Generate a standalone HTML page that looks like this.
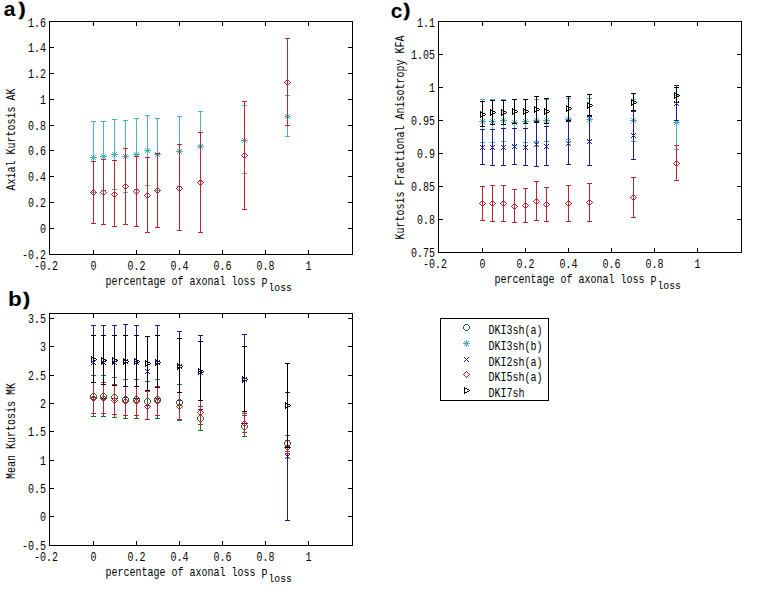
<!DOCTYPE html>
<html><head><meta charset="utf-8"><title>DKI plots</title>
<style>
html,body{margin:0;padding:0;background:#fff;}
body{width:763px;height:590px;overflow:hidden;font-family:"Liberation Sans",sans-serif;}
svg{display:block;}

</style></head><body>
<svg width="763" height="590" viewBox="0 0 763 590">
<rect width="763" height="590" fill="#fff"/>
<g font-family="Liberation Mono" font-size="13" fill="#000">
<rect x="49.5" y="21.5" width="303" height="233" fill="none" stroke="#000"/>
<path d="M50 21.5h4M352 21.5h-4M50 47.5h4M352 47.5h-4M50 73.5h4M352 73.5h-4M50 99.5h4M352 99.5h-4M50 125.5h4M352 125.5h-4M50 150.5h4M352 150.5h-4M50 176.5h4M352 176.5h-4M50 202.5h4M352 202.5h-4M50 228.5h4M352 228.5h-4M50 254.5h4M352 254.5h-4M49.5 254v-4M49.5 22v4M93.5 254v-4M93.5 22v4M136.5 254v-4M136.5 22v4M179.5 254v-4M179.5 22v4M222.5 254v-4M222.5 22v4M265.5 254v-4M265.5 22v4M308.5 254v-4M308.5 22v4M352.5 254v-4M352.5 22v4" stroke="#000" fill="none"/>
<text x="28" y="26.5" textLength="18" lengthAdjust="spacingAndGlyphs">1.6</text>
<text x="28" y="51.5" textLength="18" lengthAdjust="spacingAndGlyphs">1.4</text>
<text x="28" y="77.5" textLength="18" lengthAdjust="spacingAndGlyphs">1.2</text>
<text x="40" y="103.5" textLength="6" lengthAdjust="spacingAndGlyphs">1</text>
<text x="28" y="129.5" textLength="18" lengthAdjust="spacingAndGlyphs">0.8</text>
<text x="28" y="154.5" textLength="18" lengthAdjust="spacingAndGlyphs">0.6</text>
<text x="28" y="180.5" textLength="18" lengthAdjust="spacingAndGlyphs">0.4</text>
<text x="28" y="206.5" textLength="18" lengthAdjust="spacingAndGlyphs">0.2</text>
<text x="40" y="232.5" textLength="6" lengthAdjust="spacingAndGlyphs">0</text>
<text x="22" y="258.5" textLength="24" lengthAdjust="spacingAndGlyphs">-0.2</text>
<text x="34" y="269.5" textLength="24" lengthAdjust="spacingAndGlyphs">-0.2</text>
<text x="90.5" y="269.5" textLength="6" lengthAdjust="spacingAndGlyphs">0</text>
<text x="127.5" y="269.5" textLength="18" lengthAdjust="spacingAndGlyphs">0.2</text>
<text x="170.5" y="269.5" textLength="18" lengthAdjust="spacingAndGlyphs">0.4</text>
<text x="213.5" y="269.5" textLength="18" lengthAdjust="spacingAndGlyphs">0.6</text>
<text x="256.5" y="269.5" textLength="18" lengthAdjust="spacingAndGlyphs">0.8</text>
<text x="305.5" y="269.5" textLength="6" lengthAdjust="spacingAndGlyphs">1</text>
<text x="105.5" y="285" textLength="150" lengthAdjust="spacingAndGlyphs">percentage of axonal loss</text>
<text x="261.5" y="287" textLength="6" lengthAdjust="spacingAndGlyphs">P</text>
<text x="268.5" y="290.5" font-size="10.5" textLength="23.5" lengthAdjust="spacingAndGlyphs">loss</text>
<text transform="translate(14.5 190.5) rotate(-90)" x="0" y="0" textLength="102" lengthAdjust="spacingAndGlyphs">Axial Kurtosis AK</text>
<rect x="49.5" y="313.5" width="303" height="232" fill="none" stroke="#000"/>
<path d="M50 318.5h4M352 318.5h-4M50 346.5h4M352 346.5h-4M50 375.5h4M352 375.5h-4M50 403.5h4M352 403.5h-4M50 431.5h4M352 431.5h-4M50 460.5h4M352 460.5h-4M50 488.5h4M352 488.5h-4M50 516.5h4M352 516.5h-4M50 545.5h4M352 545.5h-4M49.5 545v-4M49.5 314v4M93.5 545v-4M93.5 314v4M136.5 545v-4M136.5 314v4M179.5 545v-4M179.5 314v4M222.5 545v-4M222.5 314v4M265.5 545v-4M265.5 314v4M308.5 545v-4M308.5 314v4M352.5 545v-4M352.5 314v4" stroke="#000" fill="none"/>
<text x="28" y="322.5" textLength="18" lengthAdjust="spacingAndGlyphs">3.5</text>
<text x="40" y="350.5" textLength="6" lengthAdjust="spacingAndGlyphs">3</text>
<text x="28" y="379.5" textLength="18" lengthAdjust="spacingAndGlyphs">2.5</text>
<text x="40" y="407.5" textLength="6" lengthAdjust="spacingAndGlyphs">2</text>
<text x="28" y="435.5" textLength="18" lengthAdjust="spacingAndGlyphs">1.5</text>
<text x="40" y="464.5" textLength="6" lengthAdjust="spacingAndGlyphs">1</text>
<text x="28" y="492.5" textLength="18" lengthAdjust="spacingAndGlyphs">0.5</text>
<text x="40" y="520.5" textLength="6" lengthAdjust="spacingAndGlyphs">0</text>
<text x="22" y="549.5" textLength="24" lengthAdjust="spacingAndGlyphs">-0.5</text>
<text x="34" y="560.5" textLength="24" lengthAdjust="spacingAndGlyphs">-0.2</text>
<text x="90.5" y="560.5" textLength="6" lengthAdjust="spacingAndGlyphs">0</text>
<text x="127.5" y="560.5" textLength="18" lengthAdjust="spacingAndGlyphs">0.2</text>
<text x="170.5" y="560.5" textLength="18" lengthAdjust="spacingAndGlyphs">0.4</text>
<text x="213.5" y="560.5" textLength="18" lengthAdjust="spacingAndGlyphs">0.6</text>
<text x="256.5" y="560.5" textLength="18" lengthAdjust="spacingAndGlyphs">0.8</text>
<text x="305.5" y="560.5" textLength="6" lengthAdjust="spacingAndGlyphs">1</text>
<text x="105.5" y="576" textLength="150" lengthAdjust="spacingAndGlyphs">percentage of axonal loss</text>
<text x="261.5" y="578" textLength="6" lengthAdjust="spacingAndGlyphs">P</text>
<text x="268.5" y="581.5" font-size="10.5" textLength="23.5" lengthAdjust="spacingAndGlyphs">loss</text>
<text transform="translate(14.5 479) rotate(-90)" x="0" y="0" textLength="96" lengthAdjust="spacingAndGlyphs">Mean Kurtosis MK</text>
<rect x="438.5" y="21.5" width="303" height="231" fill="none" stroke="#000"/>
<path d="M439 21.5h4M741 21.5h-4M439 54.5h4M741 54.5h-4M439 87.5h4M741 87.5h-4M439 120.5h4M741 120.5h-4M439 153.5h4M741 153.5h-4M439 186.5h4M741 186.5h-4M439 219.5h4M741 219.5h-4M439 252.5h4M741 252.5h-4M438.5 252v-4M438.5 22v4M482.5 252v-4M482.5 22v4M525.5 252v-4M525.5 22v4M568.5 252v-4M568.5 22v4M611.5 252v-4M611.5 22v4M654.5 252v-4M654.5 22v4M697.5 252v-4M697.5 22v4M741.5 252v-4M741.5 22v4" stroke="#000" fill="none"/>
<text x="417" y="26.5" textLength="18" lengthAdjust="spacingAndGlyphs">1.1</text>
<text x="411" y="58.5" textLength="24" lengthAdjust="spacingAndGlyphs">1.05</text>
<text x="429" y="91.5" textLength="6" lengthAdjust="spacingAndGlyphs">1</text>
<text x="411" y="124.5" textLength="24" lengthAdjust="spacingAndGlyphs">0.95</text>
<text x="417" y="157.5" textLength="18" lengthAdjust="spacingAndGlyphs">0.9</text>
<text x="411" y="190.5" textLength="24" lengthAdjust="spacingAndGlyphs">0.85</text>
<text x="417" y="223.5" textLength="18" lengthAdjust="spacingAndGlyphs">0.8</text>
<text x="411" y="256.5" textLength="24" lengthAdjust="spacingAndGlyphs">0.75</text>
<text x="423" y="267.5" textLength="24" lengthAdjust="spacingAndGlyphs">-0.2</text>
<text x="479.5" y="267.5" textLength="6" lengthAdjust="spacingAndGlyphs">0</text>
<text x="516.5" y="267.5" textLength="18" lengthAdjust="spacingAndGlyphs">0.2</text>
<text x="559.5" y="267.5" textLength="18" lengthAdjust="spacingAndGlyphs">0.4</text>
<text x="602.5" y="267.5" textLength="18" lengthAdjust="spacingAndGlyphs">0.6</text>
<text x="645.5" y="267.5" textLength="18" lengthAdjust="spacingAndGlyphs">0.8</text>
<text x="694.5" y="267.5" textLength="6" lengthAdjust="spacingAndGlyphs">1</text>
<text x="494.5" y="283" textLength="150" lengthAdjust="spacingAndGlyphs">percentage of axonal loss</text>
<text x="650.5" y="285" textLength="6" lengthAdjust="spacingAndGlyphs">P</text>
<text x="657.5" y="288.5" font-size="10.5" textLength="23.5" lengthAdjust="spacingAndGlyphs">loss</text>
<text transform="translate(403.5 239.5) rotate(-90)" x="0" y="0" textLength="204" lengthAdjust="spacingAndGlyphs">Kurtosis Fractional Anisotropy KFA</text>
</g>
<g shape-rendering="crispEdges">
<path d="M93.5 121.5V192.5M91 121.5h5M91 192.5h5M103.5 121.5V190.5M101 121.5h5M101 190.5h5M114.5 119.5V189.5M112 119.5h5M112 189.5h5M125.5 120.5V192.5M123 120.5h5M123 192.5h5M136.5 118.5V189.5M134 118.5h5M134 189.5h5M147.5 115.5V185.5M145 115.5h5M145 185.5h5M157.5 118.5V190.5M155 118.5h5M155 190.5h5M179.5 116.5V186.5M177 116.5h5M177 186.5h5M200.5 111.5V181.5M198 111.5h5M198 181.5h5M244.5 105.5V173.5M242 105.5h5M242 173.5h5M287.5 95.5V136.5M285 95.5h5M285 136.5h5" stroke="#48b4be" fill="none"/>
<path d="M93 154h1v1h-1zM91 155h1v1h-1zM93 155h1v1h-1zM95 155h1v1h-1zM92 156h1v1h-1zM93 156h1v1h-1zM94 156h1v1h-1zM90 157h1v1h-1zM91 157h1v1h-1zM92 157h1v1h-1zM93 157h1v1h-1zM94 157h1v1h-1zM95 157h1v1h-1zM96 157h1v1h-1zM92 158h1v1h-1zM93 158h1v1h-1zM94 158h1v1h-1zM91 159h1v1h-1zM93 159h1v1h-1zM95 159h1v1h-1zM93 160h1v1h-1z" fill="#48b4be"/>
<path d="M103 153h1v1h-1zM101 154h1v1h-1zM103 154h1v1h-1zM105 154h1v1h-1zM102 155h1v1h-1zM103 155h1v1h-1zM104 155h1v1h-1zM100 156h1v1h-1zM101 156h1v1h-1zM102 156h1v1h-1zM103 156h1v1h-1zM104 156h1v1h-1zM105 156h1v1h-1zM106 156h1v1h-1zM102 157h1v1h-1zM103 157h1v1h-1zM104 157h1v1h-1zM101 158h1v1h-1zM103 158h1v1h-1zM105 158h1v1h-1zM103 159h1v1h-1z" fill="#48b4be"/>
<path d="M114 151h1v1h-1zM112 152h1v1h-1zM114 152h1v1h-1zM116 152h1v1h-1zM113 153h1v1h-1zM114 153h1v1h-1zM115 153h1v1h-1zM111 154h1v1h-1zM112 154h1v1h-1zM113 154h1v1h-1zM114 154h1v1h-1zM115 154h1v1h-1zM116 154h1v1h-1zM117 154h1v1h-1zM113 155h1v1h-1zM114 155h1v1h-1zM115 155h1v1h-1zM112 156h1v1h-1zM114 156h1v1h-1zM116 156h1v1h-1zM114 157h1v1h-1z" fill="#48b4be"/>
<path d="M125 153h1v1h-1zM123 154h1v1h-1zM125 154h1v1h-1zM127 154h1v1h-1zM124 155h1v1h-1zM125 155h1v1h-1zM126 155h1v1h-1zM122 156h1v1h-1zM123 156h1v1h-1zM124 156h1v1h-1zM125 156h1v1h-1zM126 156h1v1h-1zM127 156h1v1h-1zM128 156h1v1h-1zM124 157h1v1h-1zM125 157h1v1h-1zM126 157h1v1h-1zM123 158h1v1h-1zM125 158h1v1h-1zM127 158h1v1h-1zM125 159h1v1h-1z" fill="#48b4be"/>
<path d="M136 151h1v1h-1zM134 152h1v1h-1zM136 152h1v1h-1zM138 152h1v1h-1zM135 153h1v1h-1zM136 153h1v1h-1zM137 153h1v1h-1zM133 154h1v1h-1zM134 154h1v1h-1zM135 154h1v1h-1zM136 154h1v1h-1zM137 154h1v1h-1zM138 154h1v1h-1zM139 154h1v1h-1zM135 155h1v1h-1zM136 155h1v1h-1zM137 155h1v1h-1zM134 156h1v1h-1zM136 156h1v1h-1zM138 156h1v1h-1zM136 157h1v1h-1z" fill="#48b4be"/>
<path d="M147 147h1v1h-1zM145 148h1v1h-1zM147 148h1v1h-1zM149 148h1v1h-1zM146 149h1v1h-1zM147 149h1v1h-1zM148 149h1v1h-1zM144 150h1v1h-1zM145 150h1v1h-1zM146 150h1v1h-1zM147 150h1v1h-1zM148 150h1v1h-1zM149 150h1v1h-1zM150 150h1v1h-1zM146 151h1v1h-1zM147 151h1v1h-1zM148 151h1v1h-1zM145 152h1v1h-1zM147 152h1v1h-1zM149 152h1v1h-1zM147 153h1v1h-1z" fill="#48b4be"/>
<path d="M157 151h1v1h-1zM155 152h1v1h-1zM157 152h1v1h-1zM159 152h1v1h-1zM156 153h1v1h-1zM157 153h1v1h-1zM158 153h1v1h-1zM154 154h1v1h-1zM155 154h1v1h-1zM156 154h1v1h-1zM157 154h1v1h-1zM158 154h1v1h-1zM159 154h1v1h-1zM160 154h1v1h-1zM156 155h1v1h-1zM157 155h1v1h-1zM158 155h1v1h-1zM155 156h1v1h-1zM157 156h1v1h-1zM159 156h1v1h-1zM157 157h1v1h-1z" fill="#48b4be"/>
<path d="M179 148h1v1h-1zM177 149h1v1h-1zM179 149h1v1h-1zM181 149h1v1h-1zM178 150h1v1h-1zM179 150h1v1h-1zM180 150h1v1h-1zM176 151h1v1h-1zM177 151h1v1h-1zM178 151h1v1h-1zM179 151h1v1h-1zM180 151h1v1h-1zM181 151h1v1h-1zM182 151h1v1h-1zM178 152h1v1h-1zM179 152h1v1h-1zM180 152h1v1h-1zM177 153h1v1h-1zM179 153h1v1h-1zM181 153h1v1h-1zM179 154h1v1h-1z" fill="#48b4be"/>
<path d="M200 143h1v1h-1zM198 144h1v1h-1zM200 144h1v1h-1zM202 144h1v1h-1zM199 145h1v1h-1zM200 145h1v1h-1zM201 145h1v1h-1zM197 146h1v1h-1zM198 146h1v1h-1zM199 146h1v1h-1zM200 146h1v1h-1zM201 146h1v1h-1zM202 146h1v1h-1zM203 146h1v1h-1zM199 147h1v1h-1zM200 147h1v1h-1zM201 147h1v1h-1zM198 148h1v1h-1zM200 148h1v1h-1zM202 148h1v1h-1zM200 149h1v1h-1z" fill="#48b4be"/>
<path d="M244 137h1v1h-1zM242 138h1v1h-1zM244 138h1v1h-1zM246 138h1v1h-1zM243 139h1v1h-1zM244 139h1v1h-1zM245 139h1v1h-1zM241 140h1v1h-1zM242 140h1v1h-1zM243 140h1v1h-1zM244 140h1v1h-1zM245 140h1v1h-1zM246 140h1v1h-1zM247 140h1v1h-1zM243 141h1v1h-1zM244 141h1v1h-1zM245 141h1v1h-1zM242 142h1v1h-1zM244 142h1v1h-1zM246 142h1v1h-1zM244 143h1v1h-1z" fill="#48b4be"/>
<path d="M287 113h1v1h-1zM285 114h1v1h-1zM287 114h1v1h-1zM289 114h1v1h-1zM286 115h1v1h-1zM287 115h1v1h-1zM288 115h1v1h-1zM284 116h1v1h-1zM285 116h1v1h-1zM286 116h1v1h-1zM287 116h1v1h-1zM288 116h1v1h-1zM289 116h1v1h-1zM290 116h1v1h-1zM286 117h1v1h-1zM287 117h1v1h-1zM288 117h1v1h-1zM285 118h1v1h-1zM287 118h1v1h-1zM289 118h1v1h-1zM287 119h1v1h-1z" fill="#48b4be"/>
<path d="M93.5 161.5V223.5M91 161.5h5M91 223.5h5M103.5 159.5V224.5M101 159.5h5M101 224.5h5M114.5 160.5V226.5M112 160.5h5M112 226.5h5M125.5 148.5V224.5M123 148.5h5M123 224.5h5M136.5 156.5V226.5M134 156.5h5M134 226.5h5M147.5 157.5V232.5M145 157.5h5M145 232.5h5M157.5 153.5V227.5M155 153.5h5M155 227.5h5M179.5 144.5V230.5M177 144.5h5M177 230.5h5M200.5 132.5V232.5M198 132.5h5M198 232.5h5M244.5 101.5V209.5M242 101.5h5M242 209.5h5M287.5 38.5V125.5M285 38.5h5M285 125.5h5" stroke="#be2430" fill="none"/>
<path d="M93 189h1v1h-1zM92 190h1v1h-1zM94 190h1v1h-1zM91 191h1v1h-1zM95 191h1v1h-1zM90 192h1v1h-1zM96 192h1v1h-1zM91 193h1v1h-1zM95 193h1v1h-1zM92 194h1v1h-1zM94 194h1v1h-1zM93 195h1v1h-1z" fill="#be2430"/>
<path d="M103 189h1v1h-1zM102 190h1v1h-1zM104 190h1v1h-1zM101 191h1v1h-1zM105 191h1v1h-1zM100 192h1v1h-1zM106 192h1v1h-1zM101 193h1v1h-1zM105 193h1v1h-1zM102 194h1v1h-1zM104 194h1v1h-1zM103 195h1v1h-1z" fill="#be2430"/>
<path d="M114 191h1v1h-1zM113 192h1v1h-1zM115 192h1v1h-1zM112 193h1v1h-1zM116 193h1v1h-1zM111 194h1v1h-1zM117 194h1v1h-1zM112 195h1v1h-1zM116 195h1v1h-1zM113 196h1v1h-1zM115 196h1v1h-1zM114 197h1v1h-1z" fill="#be2430"/>
<path d="M125 183h1v1h-1zM124 184h1v1h-1zM126 184h1v1h-1zM123 185h1v1h-1zM127 185h1v1h-1zM122 186h1v1h-1zM128 186h1v1h-1zM123 187h1v1h-1zM127 187h1v1h-1zM124 188h1v1h-1zM126 188h1v1h-1zM125 189h1v1h-1z" fill="#be2430"/>
<path d="M136 188h1v1h-1zM135 189h1v1h-1zM137 189h1v1h-1zM134 190h1v1h-1zM138 190h1v1h-1zM133 191h1v1h-1zM139 191h1v1h-1zM134 192h1v1h-1zM138 192h1v1h-1zM135 193h1v1h-1zM137 193h1v1h-1zM136 194h1v1h-1z" fill="#be2430"/>
<path d="M147 192h1v1h-1zM146 193h1v1h-1zM148 193h1v1h-1zM145 194h1v1h-1zM149 194h1v1h-1zM144 195h1v1h-1zM150 195h1v1h-1zM145 196h1v1h-1zM149 196h1v1h-1zM146 197h1v1h-1zM148 197h1v1h-1zM147 198h1v1h-1z" fill="#be2430"/>
<path d="M157 187h1v1h-1zM156 188h1v1h-1zM158 188h1v1h-1zM155 189h1v1h-1zM159 189h1v1h-1zM154 190h1v1h-1zM160 190h1v1h-1zM155 191h1v1h-1zM159 191h1v1h-1zM156 192h1v1h-1zM158 192h1v1h-1zM157 193h1v1h-1z" fill="#be2430"/>
<path d="M179 185h1v1h-1zM178 186h1v1h-1zM180 186h1v1h-1zM177 187h1v1h-1zM181 187h1v1h-1zM176 188h1v1h-1zM182 188h1v1h-1zM177 189h1v1h-1zM181 189h1v1h-1zM178 190h1v1h-1zM180 190h1v1h-1zM179 191h1v1h-1z" fill="#be2430"/>
<path d="M200 179h1v1h-1zM199 180h1v1h-1zM201 180h1v1h-1zM198 181h1v1h-1zM202 181h1v1h-1zM197 182h1v1h-1zM203 182h1v1h-1zM198 183h1v1h-1zM202 183h1v1h-1zM199 184h1v1h-1zM201 184h1v1h-1zM200 185h1v1h-1z" fill="#be2430"/>
<path d="M244 152h1v1h-1zM243 153h1v1h-1zM245 153h1v1h-1zM242 154h1v1h-1zM246 154h1v1h-1zM241 155h1v1h-1zM247 155h1v1h-1zM242 156h1v1h-1zM246 156h1v1h-1zM243 157h1v1h-1zM245 157h1v1h-1zM244 158h1v1h-1z" fill="#be2430"/>
<path d="M287 79h1v1h-1zM286 80h1v1h-1zM288 80h1v1h-1zM285 81h1v1h-1zM289 81h1v1h-1zM284 82h1v1h-1zM290 82h1v1h-1zM285 83h1v1h-1zM289 83h1v1h-1zM286 84h1v1h-1zM288 84h1v1h-1zM287 85h1v1h-1z" fill="#be2430"/>
<path d="M93.5 375.5V416.5M91 375.5h5M91 416.5h5M103.5 375.5V416.5M101 375.5h5M101 416.5h5M114.5 377.5V417.5M112 377.5h5M112 417.5h5M125.5 379.5V418.5M123 379.5h5M123 418.5h5M136.5 379.5V418.5M134 379.5h5M134 418.5h5M147.5 381.5V419.5M145 381.5h5M145 419.5h5M157.5 379.5V418.5M155 379.5h5M155 418.5h5M179.5 384.5V420.5M177 384.5h5M177 420.5h5M200.5 406.5V430.5M198 406.5h5M198 430.5h5M244.5 415.5V436.5M242 415.5h5M242 436.5h5M287.5 435.5V451.5M285 435.5h5M285 451.5h5" stroke="#1e7328" fill="none"/>
<path d="M92 393h1v1h-1zM93 393h1v1h-1zM94 393h1v1h-1zM91 394h1v1h-1zM95 394h1v1h-1zM90 395h1v1h-1zM96 395h1v1h-1zM90 396h1v1h-1zM96 396h1v1h-1zM90 397h1v1h-1zM96 397h1v1h-1zM91 398h1v1h-1zM95 398h1v1h-1zM92 399h1v1h-1zM93 399h1v1h-1zM94 399h1v1h-1z" fill="#1e7328"/>
<path d="M102 393h1v1h-1zM103 393h1v1h-1zM104 393h1v1h-1zM101 394h1v1h-1zM105 394h1v1h-1zM100 395h1v1h-1zM106 395h1v1h-1zM100 396h1v1h-1zM106 396h1v1h-1zM100 397h1v1h-1zM106 397h1v1h-1zM101 398h1v1h-1zM105 398h1v1h-1zM102 399h1v1h-1zM103 399h1v1h-1zM104 399h1v1h-1z" fill="#1e7328"/>
<path d="M113 394h1v1h-1zM114 394h1v1h-1zM115 394h1v1h-1zM112 395h1v1h-1zM116 395h1v1h-1zM111 396h1v1h-1zM117 396h1v1h-1zM111 397h1v1h-1zM117 397h1v1h-1zM111 398h1v1h-1zM117 398h1v1h-1zM112 399h1v1h-1zM116 399h1v1h-1zM113 400h1v1h-1zM114 400h1v1h-1zM115 400h1v1h-1z" fill="#1e7328"/>
<path d="M124 396h1v1h-1zM125 396h1v1h-1zM126 396h1v1h-1zM123 397h1v1h-1zM127 397h1v1h-1zM122 398h1v1h-1zM128 398h1v1h-1zM122 399h1v1h-1zM128 399h1v1h-1zM122 400h1v1h-1zM128 400h1v1h-1zM123 401h1v1h-1zM127 401h1v1h-1zM124 402h1v1h-1zM125 402h1v1h-1zM126 402h1v1h-1z" fill="#1e7328"/>
<path d="M135 396h1v1h-1zM136 396h1v1h-1zM137 396h1v1h-1zM134 397h1v1h-1zM138 397h1v1h-1zM133 398h1v1h-1zM139 398h1v1h-1zM133 399h1v1h-1zM139 399h1v1h-1zM133 400h1v1h-1zM139 400h1v1h-1zM134 401h1v1h-1zM138 401h1v1h-1zM135 402h1v1h-1zM136 402h1v1h-1zM137 402h1v1h-1z" fill="#1e7328"/>
<path d="M146 398h1v1h-1zM147 398h1v1h-1zM148 398h1v1h-1zM145 399h1v1h-1zM149 399h1v1h-1zM144 400h1v1h-1zM150 400h1v1h-1zM144 401h1v1h-1zM150 401h1v1h-1zM144 402h1v1h-1zM150 402h1v1h-1zM145 403h1v1h-1zM149 403h1v1h-1zM146 404h1v1h-1zM147 404h1v1h-1zM148 404h1v1h-1z" fill="#1e7328"/>
<path d="M156 396h1v1h-1zM157 396h1v1h-1zM158 396h1v1h-1zM155 397h1v1h-1zM159 397h1v1h-1zM154 398h1v1h-1zM160 398h1v1h-1zM154 399h1v1h-1zM160 399h1v1h-1zM154 400h1v1h-1zM160 400h1v1h-1zM155 401h1v1h-1zM159 401h1v1h-1zM156 402h1v1h-1zM157 402h1v1h-1zM158 402h1v1h-1z" fill="#1e7328"/>
<path d="M178 399h1v1h-1zM179 399h1v1h-1zM180 399h1v1h-1zM177 400h1v1h-1zM181 400h1v1h-1zM176 401h1v1h-1zM182 401h1v1h-1zM176 402h1v1h-1zM182 402h1v1h-1zM176 403h1v1h-1zM182 403h1v1h-1zM177 404h1v1h-1zM181 404h1v1h-1zM178 405h1v1h-1zM179 405h1v1h-1zM180 405h1v1h-1z" fill="#1e7328"/>
<path d="M199 415h1v1h-1zM200 415h1v1h-1zM201 415h1v1h-1zM198 416h1v1h-1zM202 416h1v1h-1zM197 417h1v1h-1zM203 417h1v1h-1zM197 418h1v1h-1zM203 418h1v1h-1zM197 419h1v1h-1zM203 419h1v1h-1zM198 420h1v1h-1zM202 420h1v1h-1zM199 421h1v1h-1zM200 421h1v1h-1zM201 421h1v1h-1z" fill="#1e7328"/>
<path d="M243 423h1v1h-1zM244 423h1v1h-1zM245 423h1v1h-1zM242 424h1v1h-1zM246 424h1v1h-1zM241 425h1v1h-1zM247 425h1v1h-1zM241 426h1v1h-1zM247 426h1v1h-1zM241 427h1v1h-1zM247 427h1v1h-1zM242 428h1v1h-1zM246 428h1v1h-1zM243 429h1v1h-1zM244 429h1v1h-1zM245 429h1v1h-1z" fill="#1e7328"/>
<path d="M286 440h1v1h-1zM287 440h1v1h-1zM288 440h1v1h-1zM285 441h1v1h-1zM289 441h1v1h-1zM284 442h1v1h-1zM290 442h1v1h-1zM284 443h1v1h-1zM290 443h1v1h-1zM284 444h1v1h-1zM290 444h1v1h-1zM285 445h1v1h-1zM289 445h1v1h-1zM286 446h1v1h-1zM287 446h1v1h-1zM288 446h1v1h-1z" fill="#1e7328"/>
<path d="M93.5 325.5V397.5M91 325.5h5M91 397.5h5M103.5 325.5V398.5M101 325.5h5M101 398.5h5M114.5 325.5V398.5M112 325.5h5M112 398.5h5M125.5 324.5V397.5M123 324.5h5M123 397.5h5M136.5 325.5V398.5M134 325.5h5M134 398.5h5M147.5 336.5V405.5M145 336.5h5M145 405.5h5M157.5 325.5V398.5M155 325.5h5M155 398.5h5M179.5 331.5V400.5M177 331.5h5M177 400.5h5M200.5 335.5V409.5M198 335.5h5M198 409.5h5M244.5 334.5V423.5M242 334.5h5M242 423.5h5M287.5 392.5V520.5M285 392.5h5M285 520.5h5" stroke="#1c1c8c" fill="none"/>
<path d="M93.5 382.5V413.5M91 382.5h5M91 413.5h5M103.5 382.5V413.5M101 382.5h5M101 413.5h5M114.5 384.5V414.5M112 384.5h5M112 414.5h5M125.5 386.5V415.5M123 386.5h5M123 415.5h5M136.5 386.5V415.5M134 386.5h5M134 415.5h5M147.5 391.5V419.5M145 391.5h5M145 419.5h5M157.5 386.5V415.5M155 386.5h5M155 415.5h5M179.5 392.5V419.5M177 392.5h5M177 419.5h5M200.5 400.5V424.5M198 400.5h5M198 424.5h5M244.5 413.5V432.5M242 413.5h5M242 432.5h5M287.5 440.5V453.5M285 440.5h5M285 453.5h5" stroke="#be2430" fill="none"/>
<path d="M93 395h1v1h-1zM92 396h1v1h-1zM94 396h1v1h-1zM91 397h1v1h-1zM95 397h1v1h-1zM90 398h1v1h-1zM96 398h1v1h-1zM91 399h1v1h-1zM95 399h1v1h-1zM92 400h1v1h-1zM94 400h1v1h-1zM93 401h1v1h-1z" fill="#be2430"/>
<path d="M103 395h1v1h-1zM102 396h1v1h-1zM104 396h1v1h-1zM101 397h1v1h-1zM105 397h1v1h-1zM100 398h1v1h-1zM106 398h1v1h-1zM101 399h1v1h-1zM105 399h1v1h-1zM102 400h1v1h-1zM104 400h1v1h-1zM103 401h1v1h-1z" fill="#be2430"/>
<path d="M114 397h1v1h-1zM113 398h1v1h-1zM115 398h1v1h-1zM112 399h1v1h-1zM116 399h1v1h-1zM111 400h1v1h-1zM117 400h1v1h-1zM112 401h1v1h-1zM116 401h1v1h-1zM113 402h1v1h-1zM115 402h1v1h-1zM114 403h1v1h-1z" fill="#be2430"/>
<path d="M125 398h1v1h-1zM124 399h1v1h-1zM126 399h1v1h-1zM123 400h1v1h-1zM127 400h1v1h-1zM122 401h1v1h-1zM128 401h1v1h-1zM123 402h1v1h-1zM127 402h1v1h-1zM124 403h1v1h-1zM126 403h1v1h-1zM125 404h1v1h-1z" fill="#be2430"/>
<path d="M136 398h1v1h-1zM135 399h1v1h-1zM137 399h1v1h-1zM134 400h1v1h-1zM138 400h1v1h-1zM133 401h1v1h-1zM139 401h1v1h-1zM134 402h1v1h-1zM138 402h1v1h-1zM135 403h1v1h-1zM137 403h1v1h-1zM136 404h1v1h-1z" fill="#be2430"/>
<path d="M147 403h1v1h-1zM146 404h1v1h-1zM148 404h1v1h-1zM145 405h1v1h-1zM149 405h1v1h-1zM144 406h1v1h-1zM150 406h1v1h-1zM145 407h1v1h-1zM149 407h1v1h-1zM146 408h1v1h-1zM148 408h1v1h-1zM147 409h1v1h-1z" fill="#be2430"/>
<path d="M157 398h1v1h-1zM156 399h1v1h-1zM158 399h1v1h-1zM155 400h1v1h-1zM159 400h1v1h-1zM154 401h1v1h-1zM160 401h1v1h-1zM155 402h1v1h-1zM159 402h1v1h-1zM156 403h1v1h-1zM158 403h1v1h-1zM157 404h1v1h-1z" fill="#be2430"/>
<path d="M179 403h1v1h-1zM178 404h1v1h-1zM180 404h1v1h-1zM177 405h1v1h-1zM181 405h1v1h-1zM176 406h1v1h-1zM182 406h1v1h-1zM177 407h1v1h-1zM181 407h1v1h-1zM178 408h1v1h-1zM180 408h1v1h-1zM179 409h1v1h-1z" fill="#be2430"/>
<path d="M200 409h1v1h-1zM199 410h1v1h-1zM201 410h1v1h-1zM198 411h1v1h-1zM202 411h1v1h-1zM197 412h1v1h-1zM203 412h1v1h-1zM198 413h1v1h-1zM202 413h1v1h-1zM199 414h1v1h-1zM201 414h1v1h-1zM200 415h1v1h-1z" fill="#be2430"/>
<path d="M244 420h1v1h-1zM243 421h1v1h-1zM245 421h1v1h-1zM242 422h1v1h-1zM246 422h1v1h-1zM241 423h1v1h-1zM247 423h1v1h-1zM242 424h1v1h-1zM246 424h1v1h-1zM243 425h1v1h-1zM245 425h1v1h-1zM244 426h1v1h-1z" fill="#be2430"/>
<path d="M287 444h1v1h-1zM286 445h1v1h-1zM288 445h1v1h-1zM285 446h1v1h-1zM289 446h1v1h-1zM284 447h1v1h-1zM290 447h1v1h-1zM285 448h1v1h-1zM289 448h1v1h-1zM286 449h1v1h-1zM288 449h1v1h-1zM287 450h1v1h-1z" fill="#be2430"/>
<path d="M93.5 335.5V382.5M91 335.5h5M91 382.5h5M103.5 335.5V384.5M101 335.5h5M101 384.5h5M114.5 335.5V385.5M112 335.5h5M112 385.5h5M125.5 335.5V386.5M123 335.5h5M123 386.5h5M136.5 335.5V386.5M134 335.5h5M134 386.5h5M147.5 336.5V390.5M145 336.5h5M145 390.5h5M157.5 335.5V387.5M155 335.5h5M155 387.5h5M179.5 338.5V392.5M177 338.5h5M177 392.5h5M200.5 341.5V400.5M198 341.5h5M198 400.5h5M244.5 346.5V411.5M242 346.5h5M242 411.5h5M287.5 363.5V447.5M285 363.5h5M285 447.5h5" stroke="#000000" fill="none"/>
<path d="M91 356h1v1h-1zM91 357h1v1h-1zM92 357h1v1h-1zM93 357h1v1h-1zM94 358h1v1h-1zM95 358h1v1h-1zM96 359h1v1h-1zM91 358h1v1h-1zM91 359h1v1h-1zM91 360h1v1h-1zM94 360h1v1h-1zM95 360h1v1h-1zM91 361h1v1h-1zM92 361h1v1h-1zM93 361h1v1h-1zM91 362h1v1h-1z" fill="#000000"/>
<path d="M101 357h1v1h-1zM101 358h1v1h-1zM102 358h1v1h-1zM103 358h1v1h-1zM104 359h1v1h-1zM105 359h1v1h-1zM106 360h1v1h-1zM101 359h1v1h-1zM101 360h1v1h-1zM101 361h1v1h-1zM104 361h1v1h-1zM105 361h1v1h-1zM101 362h1v1h-1zM102 362h1v1h-1zM103 362h1v1h-1zM101 363h1v1h-1z" fill="#000000"/>
<path d="M112 357h1v1h-1zM112 358h1v1h-1zM113 358h1v1h-1zM114 358h1v1h-1zM115 359h1v1h-1zM116 359h1v1h-1zM117 360h1v1h-1zM112 359h1v1h-1zM112 360h1v1h-1zM112 361h1v1h-1zM115 361h1v1h-1zM116 361h1v1h-1zM112 362h1v1h-1zM113 362h1v1h-1zM114 362h1v1h-1zM112 363h1v1h-1z" fill="#000000"/>
<path d="M123 358h1v1h-1zM123 359h1v1h-1zM124 359h1v1h-1zM125 359h1v1h-1zM126 360h1v1h-1zM127 360h1v1h-1zM128 361h1v1h-1zM123 360h1v1h-1zM123 361h1v1h-1zM123 362h1v1h-1zM126 362h1v1h-1zM127 362h1v1h-1zM123 363h1v1h-1zM124 363h1v1h-1zM125 363h1v1h-1zM123 364h1v1h-1z" fill="#000000"/>
<path d="M134 358h1v1h-1zM134 359h1v1h-1zM135 359h1v1h-1zM136 359h1v1h-1zM137 360h1v1h-1zM138 360h1v1h-1zM139 361h1v1h-1zM134 360h1v1h-1zM134 361h1v1h-1zM134 362h1v1h-1zM137 362h1v1h-1zM138 362h1v1h-1zM134 363h1v1h-1zM135 363h1v1h-1zM136 363h1v1h-1zM134 364h1v1h-1z" fill="#000000"/>
<path d="M145 360h1v1h-1zM145 361h1v1h-1zM146 361h1v1h-1zM147 361h1v1h-1zM148 362h1v1h-1zM149 362h1v1h-1zM150 363h1v1h-1zM145 362h1v1h-1zM145 363h1v1h-1zM145 364h1v1h-1zM148 364h1v1h-1zM149 364h1v1h-1zM145 365h1v1h-1zM146 365h1v1h-1zM147 365h1v1h-1zM145 366h1v1h-1z" fill="#000000"/>
<path d="M155 359h1v1h-1zM155 360h1v1h-1zM156 360h1v1h-1zM157 360h1v1h-1zM158 361h1v1h-1zM159 361h1v1h-1zM160 362h1v1h-1zM155 361h1v1h-1zM155 362h1v1h-1zM155 363h1v1h-1zM158 363h1v1h-1zM159 363h1v1h-1zM155 364h1v1h-1zM156 364h1v1h-1zM157 364h1v1h-1zM155 365h1v1h-1z" fill="#000000"/>
<path d="M177 363h1v1h-1zM177 364h1v1h-1zM178 364h1v1h-1zM179 364h1v1h-1zM180 365h1v1h-1zM181 365h1v1h-1zM182 366h1v1h-1zM177 365h1v1h-1zM177 366h1v1h-1zM177 367h1v1h-1zM180 367h1v1h-1zM181 367h1v1h-1zM177 368h1v1h-1zM178 368h1v1h-1zM179 368h1v1h-1zM177 369h1v1h-1z" fill="#000000"/>
<path d="M198 368h1v1h-1zM198 369h1v1h-1zM199 369h1v1h-1zM200 369h1v1h-1zM201 370h1v1h-1zM202 370h1v1h-1zM203 371h1v1h-1zM198 370h1v1h-1zM198 371h1v1h-1zM198 372h1v1h-1zM201 372h1v1h-1zM202 372h1v1h-1zM198 373h1v1h-1zM199 373h1v1h-1zM200 373h1v1h-1zM198 374h1v1h-1z" fill="#000000"/>
<path d="M242 376h1v1h-1zM242 377h1v1h-1zM243 377h1v1h-1zM244 377h1v1h-1zM245 378h1v1h-1zM246 378h1v1h-1zM247 379h1v1h-1zM242 378h1v1h-1zM242 379h1v1h-1zM242 380h1v1h-1zM245 380h1v1h-1zM246 380h1v1h-1zM242 381h1v1h-1zM243 381h1v1h-1zM244 381h1v1h-1zM242 382h1v1h-1z" fill="#000000"/>
<path d="M285 402h1v1h-1zM285 403h1v1h-1zM286 403h1v1h-1zM287 403h1v1h-1zM288 404h1v1h-1zM289 404h1v1h-1zM290 405h1v1h-1zM285 404h1v1h-1zM285 405h1v1h-1zM285 406h1v1h-1zM288 406h1v1h-1zM289 406h1v1h-1zM285 407h1v1h-1zM286 407h1v1h-1zM287 407h1v1h-1zM285 408h1v1h-1z" fill="#000000"/>
<path d="M91 360h1v1h-1zM92 361h1v1h-1zM93 362h1v1h-1zM94 363h1v1h-1zM95 364h1v1h-1zM95 360h1v1h-1zM94 361h1v1h-1zM92 363h1v1h-1zM91 364h1v1h-1z" fill="#1c1c8c"/>
<path d="M101 360h1v1h-1zM102 361h1v1h-1zM103 362h1v1h-1zM104 363h1v1h-1zM105 364h1v1h-1zM105 360h1v1h-1zM104 361h1v1h-1zM102 363h1v1h-1zM101 364h1v1h-1z" fill="#1c1c8c"/>
<path d="M112 360h1v1h-1zM113 361h1v1h-1zM114 362h1v1h-1zM115 363h1v1h-1zM116 364h1v1h-1zM116 360h1v1h-1zM115 361h1v1h-1zM113 363h1v1h-1zM112 364h1v1h-1z" fill="#1c1c8c"/>
<path d="M123 359h1v1h-1zM124 360h1v1h-1zM125 361h1v1h-1zM126 362h1v1h-1zM127 363h1v1h-1zM127 359h1v1h-1zM126 360h1v1h-1zM124 362h1v1h-1zM123 363h1v1h-1z" fill="#1c1c8c"/>
<path d="M134 360h1v1h-1zM135 361h1v1h-1zM136 362h1v1h-1zM137 363h1v1h-1zM138 364h1v1h-1zM138 360h1v1h-1zM137 361h1v1h-1zM135 363h1v1h-1zM134 364h1v1h-1z" fill="#1c1c8c"/>
<path d="M145 369h1v1h-1zM146 370h1v1h-1zM147 371h1v1h-1zM148 372h1v1h-1zM149 373h1v1h-1zM149 369h1v1h-1zM148 370h1v1h-1zM146 372h1v1h-1zM145 373h1v1h-1z" fill="#1c1c8c"/>
<path d="M155 360h1v1h-1zM156 361h1v1h-1zM157 362h1v1h-1zM158 363h1v1h-1zM159 364h1v1h-1zM159 360h1v1h-1zM158 361h1v1h-1zM156 363h1v1h-1zM155 364h1v1h-1z" fill="#1c1c8c"/>
<path d="M177 364h1v1h-1zM178 365h1v1h-1zM179 366h1v1h-1zM180 367h1v1h-1zM181 368h1v1h-1zM181 364h1v1h-1zM180 365h1v1h-1zM178 367h1v1h-1zM177 368h1v1h-1z" fill="#1c1c8c"/>
<path d="M198 370h1v1h-1zM199 371h1v1h-1zM200 372h1v1h-1zM201 373h1v1h-1zM202 374h1v1h-1zM202 370h1v1h-1zM201 371h1v1h-1zM199 373h1v1h-1zM198 374h1v1h-1z" fill="#1c1c8c"/>
<path d="M242 377h1v1h-1zM243 378h1v1h-1zM244 379h1v1h-1zM245 380h1v1h-1zM246 381h1v1h-1zM246 377h1v1h-1zM245 378h1v1h-1zM243 380h1v1h-1zM242 381h1v1h-1z" fill="#1c1c8c"/>
<path d="M285 454h1v1h-1zM286 455h1v1h-1zM287 456h1v1h-1zM288 457h1v1h-1zM289 458h1v1h-1zM289 454h1v1h-1zM288 455h1v1h-1zM286 457h1v1h-1zM285 458h1v1h-1z" fill="#1c1c8c"/>
<path d="M482.5 99.5V142.5M480 99.5h5M480 142.5h5M492.5 99.5V142.5M490 99.5h5M490 142.5h5M503.5 99.5V141.5M501 99.5h5M501 141.5h5M514.5 99.5V145.5M512 99.5h5M512 145.5h5M525.5 99.5V142.5M523 99.5h5M523 142.5h5M536.5 99.5V141.5M534 99.5h5M534 141.5h5M546.5 99.5V141.5M544 99.5h5M544 141.5h5M568.5 98.5V139.5M566 98.5h5M566 139.5h5M589.5 98.5V140.5M587 98.5h5M587 140.5h5M633.5 99.5V141.5M631 99.5h5M631 141.5h5M676.5 95.5V149.5M674 95.5h5M674 149.5h5" stroke="#48b4be" fill="none"/>
<path d="M482 118h1v1h-1zM480 119h1v1h-1zM482 119h1v1h-1zM484 119h1v1h-1zM481 120h1v1h-1zM482 120h1v1h-1zM483 120h1v1h-1zM479 121h1v1h-1zM480 121h1v1h-1zM481 121h1v1h-1zM482 121h1v1h-1zM483 121h1v1h-1zM484 121h1v1h-1zM485 121h1v1h-1zM481 122h1v1h-1zM482 122h1v1h-1zM483 122h1v1h-1zM480 123h1v1h-1zM482 123h1v1h-1zM484 123h1v1h-1zM482 124h1v1h-1z" fill="#48b4be"/>
<path d="M492 118h1v1h-1zM490 119h1v1h-1zM492 119h1v1h-1zM494 119h1v1h-1zM491 120h1v1h-1zM492 120h1v1h-1zM493 120h1v1h-1zM489 121h1v1h-1zM490 121h1v1h-1zM491 121h1v1h-1zM492 121h1v1h-1zM493 121h1v1h-1zM494 121h1v1h-1zM495 121h1v1h-1zM491 122h1v1h-1zM492 122h1v1h-1zM493 122h1v1h-1zM490 123h1v1h-1zM492 123h1v1h-1zM494 123h1v1h-1zM492 124h1v1h-1z" fill="#48b4be"/>
<path d="M503 117h1v1h-1zM501 118h1v1h-1zM503 118h1v1h-1zM505 118h1v1h-1zM502 119h1v1h-1zM503 119h1v1h-1zM504 119h1v1h-1zM500 120h1v1h-1zM501 120h1v1h-1zM502 120h1v1h-1zM503 120h1v1h-1zM504 120h1v1h-1zM505 120h1v1h-1zM506 120h1v1h-1zM502 121h1v1h-1zM503 121h1v1h-1zM504 121h1v1h-1zM501 122h1v1h-1zM503 122h1v1h-1zM505 122h1v1h-1zM503 123h1v1h-1z" fill="#48b4be"/>
<path d="M514 119h1v1h-1zM512 120h1v1h-1zM514 120h1v1h-1zM516 120h1v1h-1zM513 121h1v1h-1zM514 121h1v1h-1zM515 121h1v1h-1zM511 122h1v1h-1zM512 122h1v1h-1zM513 122h1v1h-1zM514 122h1v1h-1zM515 122h1v1h-1zM516 122h1v1h-1zM517 122h1v1h-1zM513 123h1v1h-1zM514 123h1v1h-1zM515 123h1v1h-1zM512 124h1v1h-1zM514 124h1v1h-1zM516 124h1v1h-1zM514 125h1v1h-1z" fill="#48b4be"/>
<path d="M525 118h1v1h-1zM523 119h1v1h-1zM525 119h1v1h-1zM527 119h1v1h-1zM524 120h1v1h-1zM525 120h1v1h-1zM526 120h1v1h-1zM522 121h1v1h-1zM523 121h1v1h-1zM524 121h1v1h-1zM525 121h1v1h-1zM526 121h1v1h-1zM527 121h1v1h-1zM528 121h1v1h-1zM524 122h1v1h-1zM525 122h1v1h-1zM526 122h1v1h-1zM523 123h1v1h-1zM525 123h1v1h-1zM527 123h1v1h-1zM525 124h1v1h-1z" fill="#48b4be"/>
<path d="M536 117h1v1h-1zM534 118h1v1h-1zM536 118h1v1h-1zM538 118h1v1h-1zM535 119h1v1h-1zM536 119h1v1h-1zM537 119h1v1h-1zM533 120h1v1h-1zM534 120h1v1h-1zM535 120h1v1h-1zM536 120h1v1h-1zM537 120h1v1h-1zM538 120h1v1h-1zM539 120h1v1h-1zM535 121h1v1h-1zM536 121h1v1h-1zM537 121h1v1h-1zM534 122h1v1h-1zM536 122h1v1h-1zM538 122h1v1h-1zM536 123h1v1h-1z" fill="#48b4be"/>
<path d="M546 117h1v1h-1zM544 118h1v1h-1zM546 118h1v1h-1zM548 118h1v1h-1zM545 119h1v1h-1zM546 119h1v1h-1zM547 119h1v1h-1zM543 120h1v1h-1zM544 120h1v1h-1zM545 120h1v1h-1zM546 120h1v1h-1zM547 120h1v1h-1zM548 120h1v1h-1zM549 120h1v1h-1zM545 121h1v1h-1zM546 121h1v1h-1zM547 121h1v1h-1zM544 122h1v1h-1zM546 122h1v1h-1zM548 122h1v1h-1zM546 123h1v1h-1z" fill="#48b4be"/>
<path d="M568 116h1v1h-1zM566 117h1v1h-1zM568 117h1v1h-1zM570 117h1v1h-1zM567 118h1v1h-1zM568 118h1v1h-1zM569 118h1v1h-1zM565 119h1v1h-1zM566 119h1v1h-1zM567 119h1v1h-1zM568 119h1v1h-1zM569 119h1v1h-1zM570 119h1v1h-1zM571 119h1v1h-1zM567 120h1v1h-1zM568 120h1v1h-1zM569 120h1v1h-1zM566 121h1v1h-1zM568 121h1v1h-1zM570 121h1v1h-1zM568 122h1v1h-1z" fill="#48b4be"/>
<path d="M589 116h1v1h-1zM587 117h1v1h-1zM589 117h1v1h-1zM591 117h1v1h-1zM588 118h1v1h-1zM589 118h1v1h-1zM590 118h1v1h-1zM586 119h1v1h-1zM587 119h1v1h-1zM588 119h1v1h-1zM589 119h1v1h-1zM590 119h1v1h-1zM591 119h1v1h-1zM592 119h1v1h-1zM588 120h1v1h-1zM589 120h1v1h-1zM590 120h1v1h-1zM587 121h1v1h-1zM589 121h1v1h-1zM591 121h1v1h-1zM589 122h1v1h-1z" fill="#48b4be"/>
<path d="M633 117h1v1h-1zM631 118h1v1h-1zM633 118h1v1h-1zM635 118h1v1h-1zM632 119h1v1h-1zM633 119h1v1h-1zM634 119h1v1h-1zM630 120h1v1h-1zM631 120h1v1h-1zM632 120h1v1h-1zM633 120h1v1h-1zM634 120h1v1h-1zM635 120h1v1h-1zM636 120h1v1h-1zM632 121h1v1h-1zM633 121h1v1h-1zM634 121h1v1h-1zM631 122h1v1h-1zM633 122h1v1h-1zM635 122h1v1h-1zM633 123h1v1h-1z" fill="#48b4be"/>
<path d="M676 119h1v1h-1zM674 120h1v1h-1zM676 120h1v1h-1zM678 120h1v1h-1zM675 121h1v1h-1zM676 121h1v1h-1zM677 121h1v1h-1zM673 122h1v1h-1zM674 122h1v1h-1zM675 122h1v1h-1zM676 122h1v1h-1zM677 122h1v1h-1zM678 122h1v1h-1zM679 122h1v1h-1zM675 123h1v1h-1zM676 123h1v1h-1zM677 123h1v1h-1zM674 124h1v1h-1zM676 124h1v1h-1zM678 124h1v1h-1zM676 125h1v1h-1z" fill="#48b4be"/>
<path d="M482.5 129.5V164.5M480 129.5h5M480 164.5h5M492.5 129.5V165.5M490 129.5h5M490 165.5h5M503.5 128.5V165.5M501 128.5h5M501 165.5h5M514.5 128.5V164.5M512 128.5h5M512 164.5h5M525.5 128.5V165.5M523 128.5h5M523 165.5h5M536.5 121.5V166.5M534 121.5h5M534 166.5h5M546.5 126.5V165.5M544 126.5h5M544 165.5h5M568.5 121.5V164.5M566 121.5h5M566 164.5h5M589.5 116.5V165.5M587 116.5h5M587 165.5h5M633.5 111.5V159.5M631 111.5h5M631 159.5h5M676.5 85.5V120.5M674 85.5h5M674 120.5h5" stroke="#1c1c8c" fill="none"/>
<path d="M482.5 186.5V220.5M480 186.5h5M480 220.5h5M492.5 185.5V221.5M490 185.5h5M490 221.5h5M503.5 185.5V221.5M501 185.5h5M501 221.5h5M514.5 189.5V222.5M512 189.5h5M512 222.5h5M525.5 188.5V222.5M523 188.5h5M523 222.5h5M536.5 181.5V220.5M534 181.5h5M534 220.5h5M546.5 187.5V221.5M544 187.5h5M544 221.5h5M568.5 185.5V221.5M566 185.5h5M566 221.5h5M589.5 183.5V221.5M587 183.5h5M587 221.5h5M633.5 177.5V217.5M631 177.5h5M631 217.5h5M676.5 145.5V180.5M674 145.5h5M674 180.5h5" stroke="#be2430" fill="none"/>
<path d="M482 200h1v1h-1zM481 201h1v1h-1zM483 201h1v1h-1zM480 202h1v1h-1zM484 202h1v1h-1zM479 203h1v1h-1zM485 203h1v1h-1zM480 204h1v1h-1zM484 204h1v1h-1zM481 205h1v1h-1zM483 205h1v1h-1zM482 206h1v1h-1z" fill="#be2430"/>
<path d="M492 200h1v1h-1zM491 201h1v1h-1zM493 201h1v1h-1zM490 202h1v1h-1zM494 202h1v1h-1zM489 203h1v1h-1zM495 203h1v1h-1zM490 204h1v1h-1zM494 204h1v1h-1zM491 205h1v1h-1zM493 205h1v1h-1zM492 206h1v1h-1z" fill="#be2430"/>
<path d="M503 200h1v1h-1zM502 201h1v1h-1zM504 201h1v1h-1zM501 202h1v1h-1zM505 202h1v1h-1zM500 203h1v1h-1zM506 203h1v1h-1zM501 204h1v1h-1zM505 204h1v1h-1zM502 205h1v1h-1zM504 205h1v1h-1zM503 206h1v1h-1z" fill="#be2430"/>
<path d="M514 203h1v1h-1zM513 204h1v1h-1zM515 204h1v1h-1zM512 205h1v1h-1zM516 205h1v1h-1zM511 206h1v1h-1zM517 206h1v1h-1zM512 207h1v1h-1zM516 207h1v1h-1zM513 208h1v1h-1zM515 208h1v1h-1zM514 209h1v1h-1z" fill="#be2430"/>
<path d="M525 202h1v1h-1zM524 203h1v1h-1zM526 203h1v1h-1zM523 204h1v1h-1zM527 204h1v1h-1zM522 205h1v1h-1zM528 205h1v1h-1zM523 206h1v1h-1zM527 206h1v1h-1zM524 207h1v1h-1zM526 207h1v1h-1zM525 208h1v1h-1z" fill="#be2430"/>
<path d="M536 198h1v1h-1zM535 199h1v1h-1zM537 199h1v1h-1zM534 200h1v1h-1zM538 200h1v1h-1zM533 201h1v1h-1zM539 201h1v1h-1zM534 202h1v1h-1zM538 202h1v1h-1zM535 203h1v1h-1zM537 203h1v1h-1zM536 204h1v1h-1z" fill="#be2430"/>
<path d="M546 201h1v1h-1zM545 202h1v1h-1zM547 202h1v1h-1zM544 203h1v1h-1zM548 203h1v1h-1zM543 204h1v1h-1zM549 204h1v1h-1zM544 205h1v1h-1zM548 205h1v1h-1zM545 206h1v1h-1zM547 206h1v1h-1zM546 207h1v1h-1z" fill="#be2430"/>
<path d="M568 200h1v1h-1zM567 201h1v1h-1zM569 201h1v1h-1zM566 202h1v1h-1zM570 202h1v1h-1zM565 203h1v1h-1zM571 203h1v1h-1zM566 204h1v1h-1zM570 204h1v1h-1zM567 205h1v1h-1zM569 205h1v1h-1zM568 206h1v1h-1z" fill="#be2430"/>
<path d="M589 199h1v1h-1zM588 200h1v1h-1zM590 200h1v1h-1zM587 201h1v1h-1zM591 201h1v1h-1zM586 202h1v1h-1zM592 202h1v1h-1zM587 203h1v1h-1zM591 203h1v1h-1zM588 204h1v1h-1zM590 204h1v1h-1zM589 205h1v1h-1z" fill="#be2430"/>
<path d="M633 194h1v1h-1zM632 195h1v1h-1zM634 195h1v1h-1zM631 196h1v1h-1zM635 196h1v1h-1zM630 197h1v1h-1zM636 197h1v1h-1zM631 198h1v1h-1zM635 198h1v1h-1zM632 199h1v1h-1zM634 199h1v1h-1zM633 200h1v1h-1z" fill="#be2430"/>
<path d="M676 160h1v1h-1zM675 161h1v1h-1zM677 161h1v1h-1zM674 162h1v1h-1zM678 162h1v1h-1zM673 163h1v1h-1zM679 163h1v1h-1zM674 164h1v1h-1zM678 164h1v1h-1zM675 165h1v1h-1zM677 165h1v1h-1zM676 166h1v1h-1z" fill="#be2430"/>
<path d="M482.5 101.5V126.5M480 101.5h5M480 126.5h5M492.5 100.5V124.5M490 100.5h5M490 124.5h5M503.5 100.5V124.5M501 100.5h5M501 124.5h5M514.5 99.5V123.5M512 99.5h5M512 123.5h5M525.5 99.5V123.5M523 99.5h5M523 123.5h5M536.5 96.5V122.5M534 96.5h5M534 122.5h5M546.5 98.5V123.5M544 98.5h5M544 123.5h5M568.5 96.5V120.5M566 96.5h5M566 120.5h5M589.5 94.5V115.5M587 94.5h5M587 115.5h5M633.5 93.5V110.5M631 93.5h5M631 110.5h5M676.5 87.5V102.5M674 87.5h5M674 102.5h5" stroke="#000000" fill="none"/>
<path d="M480 111h1v1h-1zM480 112h1v1h-1zM481 112h1v1h-1zM482 112h1v1h-1zM483 113h1v1h-1zM484 113h1v1h-1zM485 114h1v1h-1zM480 113h1v1h-1zM480 114h1v1h-1zM480 115h1v1h-1zM483 115h1v1h-1zM484 115h1v1h-1zM480 116h1v1h-1zM481 116h1v1h-1zM482 116h1v1h-1zM480 117h1v1h-1z" fill="#000000"/>
<path d="M490 109h1v1h-1zM490 110h1v1h-1zM491 110h1v1h-1zM492 110h1v1h-1zM493 111h1v1h-1zM494 111h1v1h-1zM495 112h1v1h-1zM490 111h1v1h-1zM490 112h1v1h-1zM490 113h1v1h-1zM493 113h1v1h-1zM494 113h1v1h-1zM490 114h1v1h-1zM491 114h1v1h-1zM492 114h1v1h-1zM490 115h1v1h-1z" fill="#000000"/>
<path d="M501 109h1v1h-1zM501 110h1v1h-1zM502 110h1v1h-1zM503 110h1v1h-1zM504 111h1v1h-1zM505 111h1v1h-1zM506 112h1v1h-1zM501 111h1v1h-1zM501 112h1v1h-1zM501 113h1v1h-1zM504 113h1v1h-1zM505 113h1v1h-1zM501 114h1v1h-1zM502 114h1v1h-1zM503 114h1v1h-1zM501 115h1v1h-1z" fill="#000000"/>
<path d="M512 108h1v1h-1zM512 109h1v1h-1zM513 109h1v1h-1zM514 109h1v1h-1zM515 110h1v1h-1zM516 110h1v1h-1zM517 111h1v1h-1zM512 110h1v1h-1zM512 111h1v1h-1zM512 112h1v1h-1zM515 112h1v1h-1zM516 112h1v1h-1zM512 113h1v1h-1zM513 113h1v1h-1zM514 113h1v1h-1zM512 114h1v1h-1z" fill="#000000"/>
<path d="M523 108h1v1h-1zM523 109h1v1h-1zM524 109h1v1h-1zM525 109h1v1h-1zM526 110h1v1h-1zM527 110h1v1h-1zM528 111h1v1h-1zM523 110h1v1h-1zM523 111h1v1h-1zM523 112h1v1h-1zM526 112h1v1h-1zM527 112h1v1h-1zM523 113h1v1h-1zM524 113h1v1h-1zM525 113h1v1h-1zM523 114h1v1h-1z" fill="#000000"/>
<path d="M534 106h1v1h-1zM534 107h1v1h-1zM535 107h1v1h-1zM536 107h1v1h-1zM537 108h1v1h-1zM538 108h1v1h-1zM539 109h1v1h-1zM534 108h1v1h-1zM534 109h1v1h-1zM534 110h1v1h-1zM537 110h1v1h-1zM538 110h1v1h-1zM534 111h1v1h-1zM535 111h1v1h-1zM536 111h1v1h-1zM534 112h1v1h-1z" fill="#000000"/>
<path d="M544 108h1v1h-1zM544 109h1v1h-1zM545 109h1v1h-1zM546 109h1v1h-1zM547 110h1v1h-1zM548 110h1v1h-1zM549 111h1v1h-1zM544 110h1v1h-1zM544 111h1v1h-1zM544 112h1v1h-1zM547 112h1v1h-1zM548 112h1v1h-1zM544 113h1v1h-1zM545 113h1v1h-1zM546 113h1v1h-1zM544 114h1v1h-1z" fill="#000000"/>
<path d="M566 105h1v1h-1zM566 106h1v1h-1zM567 106h1v1h-1zM568 106h1v1h-1zM569 107h1v1h-1zM570 107h1v1h-1zM571 108h1v1h-1zM566 107h1v1h-1zM566 108h1v1h-1zM566 109h1v1h-1zM569 109h1v1h-1zM570 109h1v1h-1zM566 110h1v1h-1zM567 110h1v1h-1zM568 110h1v1h-1zM566 111h1v1h-1z" fill="#000000"/>
<path d="M587 102h1v1h-1zM587 103h1v1h-1zM588 103h1v1h-1zM589 103h1v1h-1zM590 104h1v1h-1zM591 104h1v1h-1zM592 105h1v1h-1zM587 104h1v1h-1zM587 105h1v1h-1zM587 106h1v1h-1zM590 106h1v1h-1zM591 106h1v1h-1zM587 107h1v1h-1zM588 107h1v1h-1zM589 107h1v1h-1zM587 108h1v1h-1z" fill="#000000"/>
<path d="M631 99h1v1h-1zM631 100h1v1h-1zM632 100h1v1h-1zM633 100h1v1h-1zM634 101h1v1h-1zM635 101h1v1h-1zM636 102h1v1h-1zM631 101h1v1h-1zM631 102h1v1h-1zM631 103h1v1h-1zM634 103h1v1h-1zM635 103h1v1h-1zM631 104h1v1h-1zM632 104h1v1h-1zM633 104h1v1h-1zM631 105h1v1h-1z" fill="#000000"/>
<path d="M674 92h1v1h-1zM674 93h1v1h-1zM675 93h1v1h-1zM676 93h1v1h-1zM677 94h1v1h-1zM678 94h1v1h-1zM679 95h1v1h-1zM674 94h1v1h-1zM674 95h1v1h-1zM674 96h1v1h-1zM677 96h1v1h-1zM678 96h1v1h-1zM674 97h1v1h-1zM675 97h1v1h-1zM676 97h1v1h-1zM674 98h1v1h-1z" fill="#000000"/>
<path d="M480 145h1v1h-1zM481 146h1v1h-1zM482 147h1v1h-1zM483 148h1v1h-1zM484 149h1v1h-1zM484 145h1v1h-1zM483 146h1v1h-1zM481 148h1v1h-1zM480 149h1v1h-1z" fill="#1c1c8c"/>
<path d="M490 145h1v1h-1zM491 146h1v1h-1zM492 147h1v1h-1zM493 148h1v1h-1zM494 149h1v1h-1zM494 145h1v1h-1zM493 146h1v1h-1zM491 148h1v1h-1zM490 149h1v1h-1z" fill="#1c1c8c"/>
<path d="M501 145h1v1h-1zM502 146h1v1h-1zM503 147h1v1h-1zM504 148h1v1h-1zM505 149h1v1h-1zM505 145h1v1h-1zM504 146h1v1h-1zM502 148h1v1h-1zM501 149h1v1h-1z" fill="#1c1c8c"/>
<path d="M512 144h1v1h-1zM513 145h1v1h-1zM514 146h1v1h-1zM515 147h1v1h-1zM516 148h1v1h-1zM516 144h1v1h-1zM515 145h1v1h-1zM513 147h1v1h-1zM512 148h1v1h-1z" fill="#1c1c8c"/>
<path d="M523 145h1v1h-1zM524 146h1v1h-1zM525 147h1v1h-1zM526 148h1v1h-1zM527 149h1v1h-1zM527 145h1v1h-1zM526 146h1v1h-1zM524 148h1v1h-1zM523 149h1v1h-1z" fill="#1c1c8c"/>
<path d="M534 142h1v1h-1zM535 143h1v1h-1zM536 144h1v1h-1zM537 145h1v1h-1zM538 146h1v1h-1zM538 142h1v1h-1zM537 143h1v1h-1zM535 145h1v1h-1zM534 146h1v1h-1z" fill="#1c1c8c"/>
<path d="M544 144h1v1h-1zM545 145h1v1h-1zM546 146h1v1h-1zM547 147h1v1h-1zM548 148h1v1h-1zM548 144h1v1h-1zM547 145h1v1h-1zM545 147h1v1h-1zM544 148h1v1h-1z" fill="#1c1c8c"/>
<path d="M566 141h1v1h-1zM567 142h1v1h-1zM568 143h1v1h-1zM569 144h1v1h-1zM570 145h1v1h-1zM570 141h1v1h-1zM569 142h1v1h-1zM567 144h1v1h-1zM566 145h1v1h-1z" fill="#1c1c8c"/>
<path d="M587 139h1v1h-1zM588 140h1v1h-1zM589 141h1v1h-1zM590 142h1v1h-1zM591 143h1v1h-1zM591 139h1v1h-1zM590 140h1v1h-1zM588 142h1v1h-1zM587 143h1v1h-1z" fill="#1c1c8c"/>
<path d="M631 133h1v1h-1zM632 134h1v1h-1zM633 135h1v1h-1zM634 136h1v1h-1zM635 137h1v1h-1zM635 133h1v1h-1zM634 134h1v1h-1zM632 136h1v1h-1zM631 137h1v1h-1z" fill="#1c1c8c"/>
<path d="M674 101h1v1h-1zM675 102h1v1h-1zM676 103h1v1h-1zM677 104h1v1h-1zM678 105h1v1h-1zM678 101h1v1h-1zM677 102h1v1h-1zM675 104h1v1h-1zM674 105h1v1h-1z" fill="#1c1c8c"/>
</g>
<g font-family="Liberation Mono" font-size="13" fill="#000">
<rect x="440.5" y="318.5" width="108" height="82" fill="#fff" stroke="#000"/>
<text x="488.5" y="334" textLength="54" lengthAdjust="spacingAndGlyphs">DKI3sh(a)</text>
<path d="M465 324h1v1h-1zM466 324h1v1h-1zM467 324h1v1h-1zM464 325h1v1h-1zM468 325h1v1h-1zM463 326h1v1h-1zM469 326h1v1h-1zM463 327h1v1h-1zM469 327h1v1h-1zM463 328h1v1h-1zM469 328h1v1h-1zM464 329h1v1h-1zM468 329h1v1h-1zM465 330h1v1h-1zM466 330h1v1h-1zM467 330h1v1h-1z" fill="#1e7328"/>
<text x="488.5" y="349.75" textLength="54" lengthAdjust="spacingAndGlyphs">DKI3sh(b)</text>
<path d="M466 340h1v1h-1zM464 341h1v1h-1zM466 341h1v1h-1zM468 341h1v1h-1zM465 342h1v1h-1zM466 342h1v1h-1zM467 342h1v1h-1zM463 343h1v1h-1zM464 343h1v1h-1zM465 343h1v1h-1zM466 343h1v1h-1zM467 343h1v1h-1zM468 343h1v1h-1zM469 343h1v1h-1zM465 344h1v1h-1zM466 344h1v1h-1zM467 344h1v1h-1zM464 345h1v1h-1zM466 345h1v1h-1zM468 345h1v1h-1zM466 346h1v1h-1z" fill="#48b4be"/>
<text x="488.5" y="365.5" textLength="54" lengthAdjust="spacingAndGlyphs">DKI2sh(a)</text>
<path d="M464 357h1v1h-1zM465 358h1v1h-1zM466 359h1v1h-1zM467 360h1v1h-1zM468 361h1v1h-1zM468 357h1v1h-1zM467 358h1v1h-1zM465 360h1v1h-1zM464 361h1v1h-1z" fill="#1c1c8c"/>
<text x="488.5" y="381.25" textLength="54" lengthAdjust="spacingAndGlyphs">DKI5sh(a)</text>
<path d="M466 371h1v1h-1zM465 372h1v1h-1zM467 372h1v1h-1zM464 373h1v1h-1zM468 373h1v1h-1zM463 374h1v1h-1zM469 374h1v1h-1zM464 375h1v1h-1zM468 375h1v1h-1zM465 376h1v1h-1zM467 376h1v1h-1zM466 377h1v1h-1z" fill="#be2430"/>
<text x="488.5" y="397" textLength="36" lengthAdjust="spacingAndGlyphs">DKI7sh</text>
<path d="M464 387h1v1h-1zM464 388h1v1h-1zM465 388h1v1h-1zM466 388h1v1h-1zM467 389h1v1h-1zM468 389h1v1h-1zM469 390h1v1h-1zM464 389h1v1h-1zM464 390h1v1h-1zM464 391h1v1h-1zM467 391h1v1h-1zM468 391h1v1h-1zM464 392h1v1h-1zM465 392h1v1h-1zM466 392h1v1h-1zM464 393h1v1h-1z" fill="#000000"/>
</g>
<text x="3.8" y="15.6" font-family="Liberation Sans" font-weight="bold" font-size="21">a</text>
<text x="19.1" y="14.5" font-family="Liberation Sans" font-weight="bold" font-size="19" stroke="#000" stroke-width="0.7">)</text>
<text x="8" y="306" font-family="Liberation Sans" font-weight="bold" font-size="21" textLength="13.8" lengthAdjust="spacingAndGlyphs">b</text>
<text x="23.6" y="304.6" font-family="Liberation Sans" font-weight="bold" font-size="19" stroke="#000" stroke-width="0.7">)</text>
<text x="390.8" y="17.9" font-family="Liberation Sans" font-weight="bold" font-size="21">c</text>
<text x="403.8" y="16.4" font-family="Liberation Sans" font-weight="bold" font-size="19" stroke="#000" stroke-width="0.7">)</text>
</svg>
</body></html>
